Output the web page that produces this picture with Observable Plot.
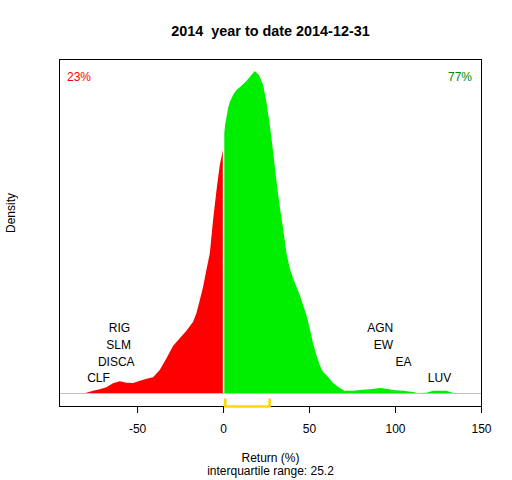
<!DOCTYPE html>
<html>
<head>
<meta charset="utf-8">
<script src="https://cdn.jsdelivr.net/npm/d3@7"></script>
<script src="https://cdn.jsdelivr.net/npm/@observablehq/plot@0.6"></script>
<style>
  body { margin: 0; background: #fff; }
  svg { font-family: "Liberation Sans", Arial, sans-serif; }
</style>
</head>
<body>
<div id="chart"></div>
<script>
// Density of returns (relative units, x1e-4)
const returnsNeg = [-80, -75.6, -71.7, -67.8, -64, -60, -56.2, -52.3, -48.4, -44.5, -40.7, -36.8, -32.9, -29.1, -25.2, -21.3, -17.4, -15.5, -13.5, -11.6, -9.7, -7.7, -5.8, -3.8, -1.9, -0.3, 0];
const densityNeg = [0, 2.3, 3.7, 5.7, 9.7, 11.7, 10.3, 10, 12.3, 14.3, 15.7, 23, 34.7, 47, 54.7, 62.3, 71.3, 79.7, 93, 106.3, 123, 139.7, 173, 203, 228, 241, 243];
const returnsPos = [0, 0.4, 1.2, 2, 2.9, 3.9, 5.8, 7.8, 10.7, 13.6, 16.5, 18.4, 20.9, 23.3, 25.2, 27.2, 29.1, 31, 33, 34.9, 36.9, 38.8, 40.7, 42.7, 44.6, 46.5, 48.5, 50.4, 52.3, 54.3, 56.2, 58.1, 61, 64, 67.8, 70.8, 75.6, 79.5, 85.3, 91.1, 95, 98.8, 104.7, 110.5, 112.8, 118.3, 122.1, 129.9, 133.4, 135];
const densityPos = [250, 258, 268, 276, 284.7, 290.7, 298, 303, 307.3, 312, 318, 322, 318, 308, 291.3, 268, 241.3, 213, 186.3, 164.7, 139.7, 124.7, 114.7, 106.3, 98, 88, 78, 64.7, 49.7, 38, 28, 21.3, 16.3, 10, 5, 2.3, 2.3, 3, 3.7, 5, 4.3, 3, 2.3, 1, 0, 0.3, 2.3, 2.3, 0.3, 0];

// Labelled stocks
const stockNames = ["CLF", "DISCA", "SLM", "RIG", "AGN", "EW", "EA", "LUV"];
const stockReturns = [-72.7, -62.4, -61, -60.5, 91.1, 93, 104.7, 125.6];
const stockLevels = [15.3, 31.3, 48.7, 65.3, 65.3, 48.7, 31.3, 15.3];

// Interquartile range
const quartiles = [1.0, 26.8];
const xTicks = [-50, 0, 50, 100, 150];

const titleText = "2014  year to date 2014-12-31";
const pctNeg = "23%";
const pctPos = "77%";
const xLabel = "Return (%)";
const iqrLabel = "interquartile range: 25.2";

const neg = returnsNeg.map((x, i) => ({x, y: densityNeg[i]}));
const pos = returnsPos.map((x, i) => ({x, y: densityPos[i]}));
const stocks = stockNames.map((name, i) => ({name, x: stockReturns[i], y: stockLevels[i]}));
const bracket = [
  {x: quartiles[0], y: -6},
  {x: quartiles[0], y: -13},
  {x: quartiles[1], y: -13},
  {x: quartiles[1], y: -6}
];

const font = "Liberation Sans, Arial, sans-serif";

const chart = Plot.plot({
  width: 512,
  height: 480,
  marginLeft: 59,
  marginRight: 31,
  marginTop: 59,
  marginBottom: 74,
  style: {fontFamily: font, background: "#fff"},
  x: {domain: [-95.4, 150], axis: null},
  y: {domain: [-13, 334], axis: null},
  marks: [
    Plot.areaY(neg, {x: "x", y: "y", fill: "#FF0000"}),
    Plot.areaY(pos, {x: "x", y: "y", fill: "#00EE00"}),
    Plot.ruleX([0], {y1: 0, y2: 330, stroke: "white", strokeWidth: 1.5}),
    Plot.ruleY([0], {stroke: "#BEBEBE", strokeWidth: 1}),
    Plot.frame({stroke: "black", strokeWidth: 1}),
    Plot.axisX({ticks: xTicks, tickSize: 7, tickPadding: 11, tickFormat: d => String(d), fontSize: 12, fill: "black", stroke: "black", label: null}),
    Plot.line(bracket, {x: "x", y: "y", stroke: "#FFD700", strokeWidth: 2.6, clip: false}),
    Plot.text(stocks, {x: "x", y: "y", text: "name", fontSize: 12, fill: "black", lineAnchor: "middle"}),
    Plot.text([titleText], {text: d => d, frameAnchor: "top", lineAnchor: "middle", dy: -28.5, fontSize: 14.4, fontWeight: "bold", fill: "black"}),
    Plot.text([pctNeg], {text: d => d, frameAnchor: "top-left", lineAnchor: "middle", dx: 7.5, dy: 18, textAnchor: "start", fontSize: 12, fill: "#FF0000"}),
    Plot.text([pctPos], {text: d => d, frameAnchor: "top-right", lineAnchor: "middle", dx: -9.5, dy: 18, textAnchor: "end", fontSize: 12, fill: "#008B00"}),
    Plot.text([xLabel], {text: d => d, frameAnchor: "bottom", lineAnchor: "middle", dy: 51.5, fontSize: 12, fill: "black"}),
    Plot.text([iqrLabel], {text: d => d, frameAnchor: "bottom", lineAnchor: "middle", dy: 64.5, fontSize: 12, fill: "black"}),
    Plot.text(["Density"], {text: d => d, frameAnchor: "left", lineAnchor: "middle", dx: -48, rotate: -90, fontSize: 12, fill: "black"})
  ]
});
document.getElementById("chart").appendChild(chart);
</script>
</body>
</html>
